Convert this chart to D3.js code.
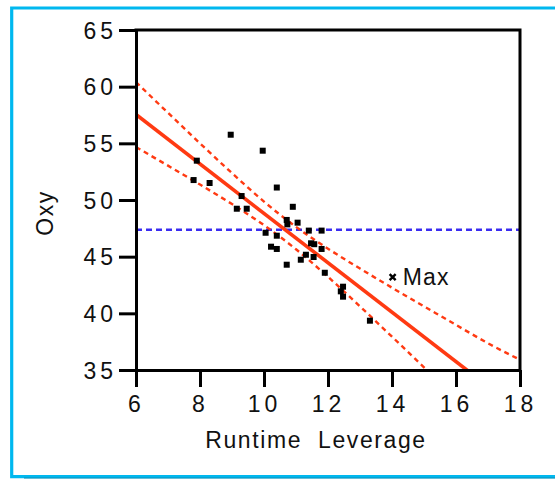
<!DOCTYPE html>
<html>
<head>
<meta charset="utf-8">
<script src="https://cdn.jsdelivr.net/npm/d3@7/dist/d3.min.js"></script>
<style>
  html, body { margin: 0; padding: 0; background: #fff; }
  svg { display: block; font-family: "Liberation Sans", Arial, sans-serif; }
</style>
</head>
<body>
<div id="chart"></div>
<script>
// Leverage plot: Oxy against Runtime leverage
const runtimeLeverage = [8.96, 9.96, 7.9, 7.8, 8.3, 10.4, 9.3, 9.15, 9.46, 10.9,
  10.71, 10.73, 11.05, 10.05, 10.4, 11.4, 11.8, 10.22, 10.4, 11.47,
  11.57, 11.8, 11.31, 11.55, 11.15, 10.71, 11.9, 12.47, 12.4, 12.47, 13.31];
const oxy = [55.76, 54.35, 53.47, 51.76, 51.5, 51.1, 50.35, 49.23, 49.23, 49.4,
  48.24, 47.85, 48.0, 47.11, 46.85, 47.3, 47.3, 45.88, 45.68, 46.18,
  46.1, 45.68, 45.17, 44.97, 44.73, 44.29, 43.58, 42.35, 41.94, 41.47, 39.35];

// labelled maximum-leverage point
const maxPoint = { x: 14.02, y: 43.2, label: "Max" };

// horizontal reference at the mean of Oxy
const oxyMean = 47.38;

// fitted line (two end points)
const fitX = [6, 18];
const fitY = [57.54, 31.38];

// confidence curves read along the x range
const bandX = [6, 7, 8, 9, 10, 11, 12, 13, 14, 15, 16, 17, 18];
const bandUpper = [60.41, 57.69, 55.0, 52.37, 49.86, 47.63, 45.7, 43.95, 42.26, 40.61, 38.98, 37.36, 35.9];
const bandLower = [54.67, 53.03, 51.36, 49.64, 47.78, 45.65, 43.22, 40.61, 37.94, 35.23, 32.5, 29.76, 27.02];

const xTicks = [6, 8, 10, 12, 14, 16, 18];
const yTicks = [35, 40, 45, 50, 55, 60, 65];
const xTitle = "Runtime  Leverage";
const yTitle = "Oxy";

const W = 555, H = 479;
const FONT = 23;
const x = d3.scaleLinear().domain([6, 18]).range([136, 520]);
const y = d3.scaleLinear().domain([35, 65]).range([370, 30]);

const svg = d3.select("#chart").append("svg")
  .attr("width", W).attr("height", H);

// outer frame
svg.append("path")
  .attr("d", `M 580 8 H 11.7 V 476.7 H 580`)
  .attr("fill", "none").attr("stroke", "#00b8ef").attr("stroke-width", 3.2);
svg.append("line")
  .attr("x1", 24).attr("x2", 560).attr("y1", 478).attr("y2", 478)
  .attr("stroke", "#0a8fb8").attr("stroke-width", 1);

svg.append("defs").append("clipPath").attr("id", "plot-clip")
  .append("rect")
  .attr("x", x(6)).attr("y", y(65))
  .attr("width", x(18) - x(6)).attr("height", y(35) - y(65));

const plot = svg.append("g").attr("clip-path", "url(#plot-clip)");

// mean reference line
plot.append("line")
  .attr("x1", x(6)).attr("x2", x(18))
  .attr("y1", y(oxyMean)).attr("y2", y(oxyMean))
  .attr("stroke", "#3a2cf0").attr("stroke-width", 2.4)
  .attr("stroke-dasharray", "6,4");

// confidence curves
const bandLine = d3.line().curve(d3.curveNatural)
  .x(d => x(d[0])).y(d => y(d[1]));
[bandUpper, bandLower].forEach(vals => {
  plot.append("path")
    .attr("d", bandLine(bandX.map((v, i) => [v, vals[i]])))
    .attr("fill", "none").attr("stroke", "#ff3a12")
    .attr("stroke-width", 2.4).attr("stroke-dasharray", "5,4");
});

// fitted line
plot.append("line")
  .attr("x1", x(fitX[0])).attr("y1", y(fitY[0]))
  .attr("x2", x(fitX[1])).attr("y2", y(fitY[1]))
  .attr("stroke", "#ff3a12").attr("stroke-width", 3.6);

// observations
plot.selectAll("rect.pt")
  .data(runtimeLeverage.map((v, i) => [v, oxy[i]]))
  .join("rect").attr("class", "pt")
  .attr("x", d => x(d[0]) - 3).attr("y", d => y(d[1]) - 3)
  .attr("width", 6).attr("height", 6).attr("fill", "#000");

// max point marker and label
const mx = x(maxPoint.x), my = y(maxPoint.y);
svg.append("path")
  .attr("d", `M ${mx - 3} ${my - 3} L ${mx + 3} ${my + 3} M ${mx - 3} ${my + 3} L ${mx + 3} ${my - 3}`)
  .attr("stroke", "#000").attr("stroke-width", 2.4);
svg.append("text")
  .attr("x", mx + 10).attr("y", my + 7.5)
  .attr("font-size", FONT).attr("letter-spacing", 1.2).attr("fill", "#111")
  .text(maxPoint.label);

// axes
const xAxis = d3.axisBottom(x).tickValues(xTicks).tickSize(17).tickSizeOuter(0).tickPadding(9);
const yAxis = d3.axisLeft(y).tickValues(yTicks).tickSize(17).tickSizeOuter(0).tickPadding(2);

const gx = svg.append("g").attr("transform", `translate(0,${y(35)})`).call(xAxis);
const gy = svg.append("g").attr("transform", `translate(${x(6)},0)`).call(yAxis);

[gx, gy].forEach(g => {
  g.select(".domain").attr("stroke", "#000").attr("stroke-width", 3);
  g.selectAll(".tick line").attr("stroke", "#000").attr("stroke-width", 3);
  g.selectAll(".tick text").attr("font-size", FONT).attr("fill", "#111")
    .attr("font-family", "Liberation Sans, Arial, sans-serif")
    .attr("letter-spacing", 4);
});
gx.selectAll(".tick text").attr("dy", "0.7em");
gy.selectAll(".tick text").attr("dy", "0.36em");

// top and right frame of the plot area
svg.append("path")
  .attr("d", `M ${x(6)} ${y(65)} H ${x(18)} V ${y(35)}`)
  .attr("fill", "none").attr("stroke", "#000").attr("stroke-width", 3)
  .attr("stroke-linecap", "square");

// axis titles
svg.append("text")
  .attr("x", 316).attr("y", 448)
  .attr("text-anchor", "middle").attr("font-size", FONT)
  .attr("letter-spacing", 1.6).attr("fill", "#111")
  .style("white-space", "pre")
  .text(xTitle);
svg.append("text")
  .attr("transform", "translate(53,213) rotate(-90)")
  .attr("text-anchor", "middle").attr("font-size", FONT)
  .attr("letter-spacing", 1.5).attr("fill", "#111")
  .text(yTitle);
</script>
</body>
</html>
